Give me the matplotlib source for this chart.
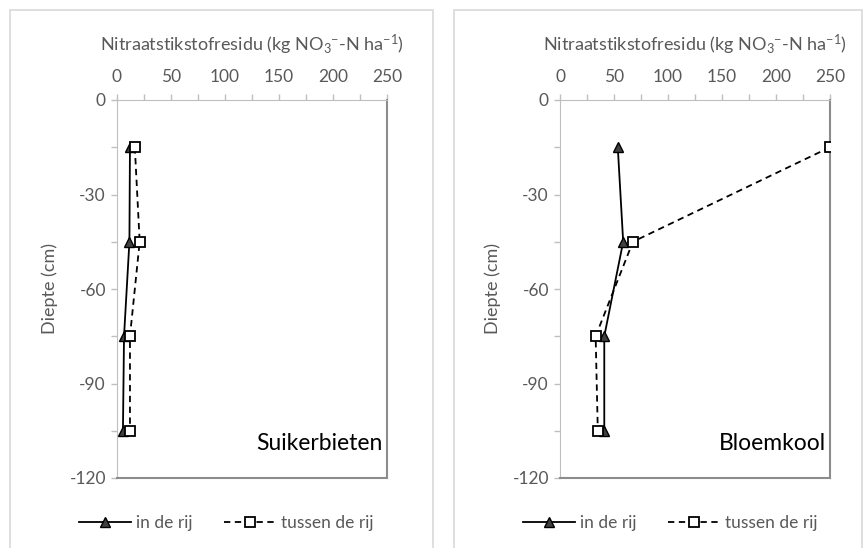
import matplotlib.pyplot as plt
from matplotlib.lines import Line2D
from matplotlib.patches import Rectangle
from matplotlib.ticker import MultipleLocator

plt.rcParams["font.family"] = ["Lato", "DejaVu Sans"]
plt.rcParams["axes.unicode_minus"] = False
plt.rcParams["mathtext.fontset"] = "custom"
plt.rcParams["mathtext.rm"] = "Lato"
plt.rcParams["mathtext.it"] = "Lato:italic"
plt.rcParams["mathtext.bf"] = "Lato:bold"

depth = [-15, -45, -75, -105]

# Suikerbieten
suiker_rij = [12, 11.5, 6.5, 5.5]
suiker_tussen = [16.5, 21, 12, 12]
# Bloemkool
bloem_rij = [53.5, 58.5, 41, 41]
bloem_tussen = [250, 67.5, 33, 35]

panels = [
    ("Suikerbieten", suiker_rij, suiker_tussen),
    ("Bloemkool", bloem_rij, bloem_tussen),
]

xlabel = r"Nitraatstikstofresidu (kg NO$_\mathrm{3}$$^\mathrm{-}$-N ha$^\mathrm{-1}$)"
ylabel = "Diepte (cm)"
leg_labels = ["in de rij", "tussen de rij"]

GREY_TXT = "#595959"
W, H = 864, 548

fig = plt.figure(figsize=(W / 100, H / 100), dpi=100)

# chart area frames
for x0, x1 in [(10, 433), (454, 862)]:
    fig.patches.append(Rectangle((x0 / W, 1 - 560 / H), (x1 - x0) / W, 550 / H,
                                 transform=fig.transFigure, fill=False,
                                 edgecolor="#d9d9d9", lw=1.2))

ax_left_px = [117, 560]
leg_cx = [226, 670]

for i, (name, rij, tussen) in enumerate(panels):
    ax = fig.add_axes([ax_left_px[i] / W, 1 - 478 / H, 270 / W, 378 / H])
    ax.plot(rij, depth, color="black", lw=1.3, marker="^", ms=7.5,
            mfc="#404040", mec="black", mew=1, zorder=3)
    ax.plot(tussen, depth, color="black", lw=1.3, dashes=(3.5, 2.5),
            marker="s", ms=7.5, mfc="white", mec="black", mew=1.3, zorder=3)

    ax.set_xlim(0, 250)
    ax.set_ylim(-120, 0)
    ax.xaxis.set_major_locator(MultipleLocator(50))
    ax.xaxis.set_minor_locator(MultipleLocator(25))
    ax.yaxis.set_major_locator(MultipleLocator(30))
    ax.yaxis.set_minor_locator(MultipleLocator(15))
    ax.xaxis.tick_top()
    ax.xaxis.set_label_position("top")
    ax.tick_params(axis="both", which="both", direction="out", color="#bfbfbf",
                   labelcolor=GREY_TXT, labelsize=12.5, length=4, width=1)
    ax.tick_params(axis="x", which="both", bottom=False, top=True, pad=7)
    ax.tick_params(axis="y", which="both", left=True, right=False, pad=4)

    ax.spines["top"].set_color("#bfbfbf")
    ax.spines["left"].set_color("#bfbfbf")
    ax.spines["right"].set_color("#8c8c8c")
    ax.spines["bottom"].set_color("#8c8c8c")
    ax.spines["right"].set_linewidth(1.5)
    ax.spines["bottom"].set_linewidth(1.5)

    ax.set_xlabel(xlabel, fontsize=13, color=GREY_TXT, labelpad=13)
    ax.set_ylabel(ylabel, fontsize=13, color=GREY_TXT, labelpad=8)

    ax.text(0.985, 0.075, name, transform=ax.transAxes, ha="right",
            va="baseline", fontsize=16.5, color="black")

    handles = [
        Line2D([], [], color="black", lw=1.3, marker="^", ms=7.5,
               mfc="#404040", mec="black"),
        Line2D([], [], color="black", lw=1.3, dashes=(3.5, 2.5), marker="s",
               ms=7.5, mfc="white", mec="black", mew=1.3),
    ]
    fig.legend(handles, leg_labels, loc="center",
               bbox_to_anchor=(leg_cx[i] / W, 1 - 523 / H), ncol=2,
               frameon=False, fontsize=12.5, labelcolor=GREY_TXT,
               handlelength=3.0, handletextpad=0.3, columnspacing=1.8)

fig.savefig("out.png", dpi=100)
